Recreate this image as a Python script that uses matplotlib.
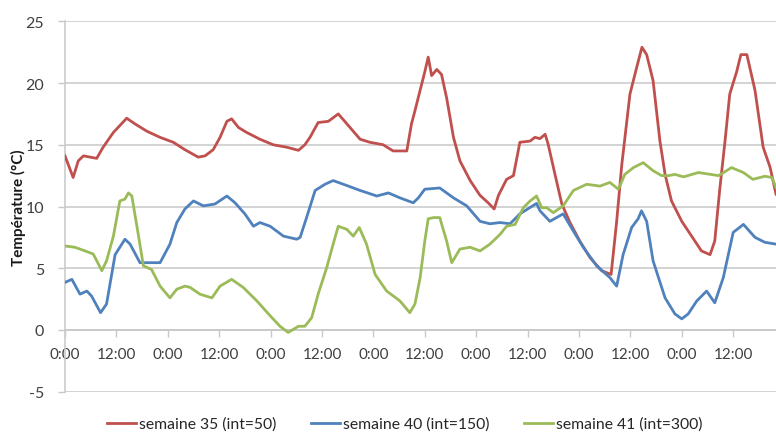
import matplotlib
matplotlib.use("Agg")
import matplotlib.pyplot as plt

plt.rcParams['font.family'] = ['Lato', 'DejaVu Sans']

# ---- data: hours since start of week, temperature (°C) ----
s35_h = [0, 1.9, 3.1, 4.3, 7.4, 8.9, 11.3, 13.2, 14.4, 16.3, 19.1, 22.2, 25.3, 28.0,
         31.1, 32.7, 34.6, 36.2, 37.8, 38.9, 40.5, 42.4, 45.5, 48.6, 51.8, 54.5, 56.0,
         57.2, 59.1, 61.5, 63.8, 65.8, 68.9, 71.2, 74.3, 76.6, 79.8, 80.9, 81.7, 82.9,
         84.0, 84.8, 85.6, 86.8, 87.9, 89.1, 90.7, 92.2, 94.6, 96.9, 98.8, 100.2, 101.2,
         103.1, 104.7, 106.2, 108.6, 109.7, 110.9, 112.1, 112.8, 114.4, 116.0, 117.9,
         120.2, 122.6, 125.3, 127.5, 128.8, 130.0, 131.9, 133.5, 134.7, 135.8, 137.3,
         138.9, 140.1, 141.6, 144.0, 146.3, 148.6, 150.6, 151.7, 152.9, 154.1, 155.2,
         156.8, 157.8, 159.2, 161.1, 163.0, 164.6, 166.0]
s35_t = [14.1, 12.35, 13.7, 14.1, 13.9, 14.8, 16.0, 16.7, 17.15, 16.7, 16.1, 15.6, 15.2, 14.6,
         14.0, 14.1, 14.6, 15.6, 16.9, 17.1, 16.4, 16.0, 15.45, 15.0, 14.8, 14.55, 15.0,
         15.6, 16.8, 16.9, 17.5, 16.7, 15.45, 15.2, 15.0, 14.5, 14.5, 16.7, 17.75, 19.4,
         20.9, 22.1, 20.6, 21.1, 20.7, 18.8, 15.6, 13.7, 12.1, 10.9, 10.3, 9.8, 10.9,
         12.2, 12.5, 15.2, 15.3, 15.6, 15.5, 15.85, 15.05, 12.6, 10.2, 8.7,
         7.2, 5.85, 4.8, 4.5, 8.8, 13.4, 19.1, 21.3, 22.9, 22.3, 20.2,
         15.3, 12.6, 10.45, 8.8, 7.6, 6.4, 6.1, 7.2, 11.5, 15.3, 19.1,
         20.9, 22.3, 22.3, 19.4, 14.8, 13.2, 11.0]

s40_h = [0, 1.6, 3.5, 5.1, 6.2, 8.3, 9.7, 11.7, 14.0, 15.2, 17.5, 22.2, 24.5, 26.1, 28.0,
         30.0, 32.3, 35.0, 37.8, 39.7, 42.0, 44.0, 45.5, 47.9, 51.0, 54.1, 54.9, 56.4,
         58.4, 60.7, 62.6, 65.0, 68.9, 72.8, 75.5, 78.2, 81.3, 82.5, 84.0, 87.5, 90.7,
         93.8, 96.9, 99.2, 101.6, 103.9, 106.2, 110.1, 110.9, 113.2, 116.3, 118.7, 121.0,
         124.1, 127.2, 128.8, 130.3, 132.3, 133.8, 134.6, 135.8, 137.3, 140.1, 142.4,
         144.0, 145.5, 147.5, 149.8, 151.7, 153.7, 156.0, 158.4, 161.1, 163.4, 166.0]
s40_t = [3.85, 4.1, 2.9, 3.15, 2.75, 1.4, 2.1, 6.1, 7.35, 6.95, 5.45, 5.45, 6.95, 8.7, 9.8,
         10.45, 10.05, 10.2, 10.85, 10.3, 9.4, 8.4, 8.7, 8.4, 7.6, 7.35, 7.5, 9.1,
         11.3, 11.8, 12.1, 11.8, 11.3, 10.85, 11.1, 10.7, 10.3, 10.7, 11.4, 11.5, 10.7,
         10.05, 8.8, 8.6, 8.7, 8.6, 9.4, 10.25, 9.65, 8.8, 9.4, 8.0, 6.7,
         5.2, 4.25, 3.55, 6.1, 8.3, 9.0, 9.65, 8.8, 5.6, 2.6, 1.3,
         0.9, 1.3, 2.35, 3.15, 2.2, 4.25, 7.9, 8.55, 7.5, 7.1, 6.95]

s41_h = [0, 2.3, 4.7, 6.6, 8.6, 9.7, 11.3, 12.8, 14.0, 14.8, 15.6, 17.1, 18.3, 20.2, 22.2,
         24.5, 26.1, 28.0, 29.2, 31.5, 34.3, 36.2, 38.9, 41.6, 44.8, 47.9, 50.2, 52.1,
         54.5, 56.0, 57.6, 59.1, 61.1, 62.6, 63.8, 65.8, 67.3, 68.7, 70.4, 72.4, 75.1,
         78.2, 80.5, 81.7, 82.9, 84.0, 84.8, 86.0, 87.5, 89.1, 90.3, 92.2, 94.6, 96.9,
         99.2, 101.6, 103.1, 105.1, 107.0, 108.6, 110.1, 111.3, 112.5, 114.0, 116.3,
         118.7, 121.8, 124.9, 127.2, 129.2, 130.7, 132.7, 135.0, 137.3, 139.3, 140.9,
         142.4, 144.4, 147.9, 152.6, 155.6, 158.4, 160.6, 163.4, 165.0, 166.0]
s41_t = [6.8, 6.7, 6.4, 6.15, 4.8, 5.6, 7.6, 10.45, 10.6, 11.1, 10.85, 7.75, 5.2, 4.9, 3.55,
         2.6, 3.3, 3.55, 3.45, 2.9, 2.6, 3.55, 4.1, 3.45, 2.35, 1.15, 0.3, -0.2,
         0.3, 0.3, 1.0, 2.9, 5.05, 6.95, 8.4, 8.15, 7.6, 8.3, 6.95, 4.5, 3.15,
         2.35, 1.4, 2.1, 4.2, 7.2, 9.0, 9.1, 9.1, 7.2, 5.45, 6.55, 6.7, 6.4,
         6.95, 7.75, 8.4, 8.55, 9.9, 10.45, 10.85, 9.9, 9.9, 9.5, 10.05,
         11.3, 11.8, 11.65, 11.95, 11.4, 12.6, 13.15, 13.55, 12.9, 12.5, 12.5,
         12.6, 12.4, 12.75, 12.5, 13.15, 12.75, 12.2, 12.45, 12.35, 11.55]

series_labels = ["semaine 35 (int=50)", "semaine 40 (int=150)", "semaine 41 (int=300)"]
series_colors = ["#C0504D", "#4F81BD", "#9BBB59"]

tick_hours = list(range(0, 157, 12))
tick_labels = ["0:00" if h % 24 == 0 else "12:00" for h in tick_hours]
y_ticks = [-5, 0, 5, 10, 15, 20, 25]

# ---- figure ----
fig = plt.figure(figsize=(7.76, 4.35), dpi=100)
ax = fig.add_axes([65 / 776, (435 - 392.7) / 435, 1 - 65 / 776, (392.7 - 22.3) / 435])

grid_c = "#C8C8C8"
for yv in y_ticks:
    ax.axhline(yv, color=grid_c, lw=1.1, zorder=0)

lines = []
for h, t, lab, c in zip([s35_h, s40_h, s41_h], [s35_t, s40_t, s41_t], series_labels, series_colors):
    ln, = ax.plot(h, t, color=c, lw=2.0, label=lab, zorder=3)
    lines.append(ln)

ax.set_xlim(0, 166)
ax.set_ylim(-5, 25)
ax.set_yticks(y_ticks)
ax.set_yticklabels([str(v) for v in y_ticks])
ax.set_xticks(tick_hours)
ax.set_xticklabels(tick_labels)

for side in ["top", "right"]:
    ax.spines[side].set_visible(False)
ax.spines["bottom"].set_position(("data", 0))
ax.spines["bottom"].set_color(grid_c)
ax.spines["left"].set_color(grid_c)
ax.spines["left"].set_linewidth(1.1)
ax.spines["bottom"].set_linewidth(1.1)

ax.tick_params(axis="x", direction="out", length=5, width=1, color=grid_c,
               pad=7, labelsize=11, labelcolor="#404040")
ax.tick_params(axis="y", direction="out", length=5, width=1, color=grid_c,
               pad=10, labelsize=11.5, labelcolor="#404040")

fig.text(18 / 776, 1 - 208 / 435, "Température (°C)", rotation=90, fontsize=11,
         fontweight="bold", ha="center", va="center", color="#1a1a1a")

fig.legend(handles=lines, loc="center", bbox_to_anchor=(405 / 776, 1 - 425 / 435),
           ncol=3, frameon=False, fontsize=11.3, handlelength=1.85, handletextpad=0.2,
           columnspacing=2.2, labelcolor="#262626")

fig.savefig("out.png", dpi=100)
